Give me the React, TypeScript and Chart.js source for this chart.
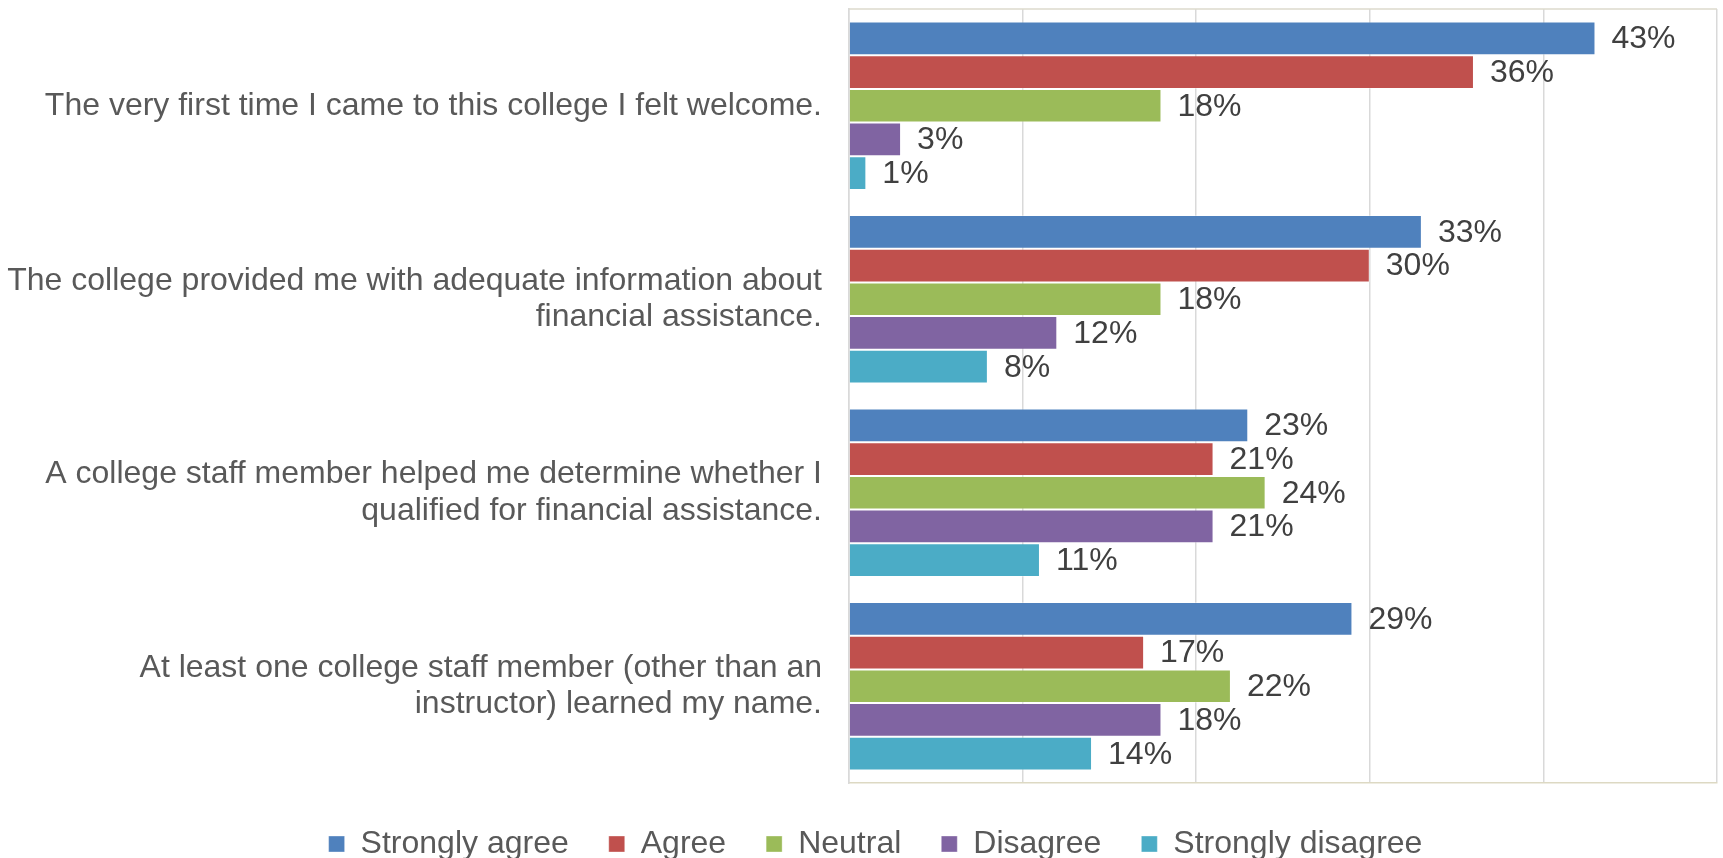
import React, { useEffect, useRef } from "react";
import { Chart, registerables } from "chart.js";

Chart.register(...registerables);

const categories: string[][] = [
  ["The very first time I came to this college I felt welcome."],
  ["The college provided me with adequate information about", "financial assistance."],
  ["A college staff member helped me determine whether I", "qualified for financial assistance."],
  ["At least one college staff member (other than an", "instructor) learned my name."],
];

const seriesNames = ["Strongly agree", "Agree", "Neutral", "Disagree", "Strongly disagree"];
const stronglyAgree = [43, 33, 23, 29];
const agree = [36, 30, 21, 17];
const neutral = [18, 18, 24, 22];
const disagree = [3, 12, 21, 18];
const stronglyDisagree = [1, 8, 11, 14];
const seriesColors = ["#4F81BD", "#C0504D", "#9BBB59", "#8064A2", "#4BACC6"];
const xTicks = [0, 10, 20, 30, 40, 50];

const FONT = "'Liberation Sans', Arial, sans-serif";

const dataLabelPlugin = {
  id: "dataLabels",
  afterDatasetsDraw(chart: any) {
    const ctx = chart.ctx;
    ctx.save();
    ctx.font = `32px ${FONT}`;
    ctx.fillStyle = "#404040";
    ctx.textAlign = "left";
    ctx.textBaseline = "middle";
    chart.data.datasets.forEach((ds: any, i: number) => {
      const meta = chart.getDatasetMeta(i);
      meta.data.forEach((bar: any, j: number) => {
        ctx.fillText(`${ds.data[j]}%`, bar.x + 16, bar.y + 1);
      });
    });
    ctx.restore();
  },
};

const borderPlugin = {
  id: "plotBorder",
  beforeDraw(chart: any) {
    const lg = chart.legend;
    if (lg && !lg.__shifted) {
      const orig = lg.draw.bind(lg);
      lg.draw = (area: any) => {
        chart.ctx.save();
        chart.ctx.translate(17, 0);
        orig(area);
        chart.ctx.restore();
      };
      lg.__shifted = true;
    }
  },
  afterDraw(chart: any) {
    const { ctx, chartArea } = chart;
    ctx.save();
    ctx.lineWidth = 1.5;
    ctx.strokeStyle = "#DCDACD";
    ctx.beginPath();
    ctx.moveTo(chartArea.left, chartArea.top);
    ctx.lineTo(chartArea.right, chartArea.top);
    ctx.stroke();
    ctx.restore();
  },
};

export default function App() {
  const ref = useRef<HTMLCanvasElement | null>(null);
  useEffect(() => {
    document.body.style.margin = "0";
    if (!ref.current) return;
    const values = [stronglyAgree, agree, neutral, disagree, stronglyDisagree];
    const chart = new Chart(ref.current, {
      type: "bar",
      data: {
        labels: categories,
        datasets: seriesNames.map((name, i) => ({
          label: name,
          data: values[i],
          backgroundColor: seriesColors[i],
          borderColor: "rgba(255,255,255,0.35)",
          borderWidth: 1,
          barPercentage: 1,
          categoryPercentage: 0.872,
        })),
      },
      options: {
        indexAxis: "y",
        animation: false,
        responsive: false,
        maintainAspectRatio: false,
        layout: { padding: { top: 9, right: 6, bottom: -12, left: 0 } },
        plugins: {
          tooltip: { enabled: false },
          legend: {
            position: "bottom",
            labels: {
              font: { family: FONT, size: 32 },
              color: "#595959",
              boxWidth: 16,
              boxHeight: 16,
              padding: 40,
            },
          },
        },
        scales: {
          x: {
            min: 0,
            max: 50,
            afterBuildTicks: (scale: any) => {
              scale.ticks = xTicks.map((v) => ({ value: v }));
            },
            ticks: { display: false },
            grid: { color: "#D9D9D9", lineWidth: 1.5, drawTicks: false },
            border: { display: true, color: "#DDD9C3", width: 1.5 },
            afterFit: (scale: any) => {
              scale.height = 5;
              scale.paddingLeft = 0;
              scale.paddingRight = 0;
            },
          },
          y: {
            grid: { display: false, drawTicks: false },
            border: { display: true, color: "#D9D9D9", width: 1.5 },
            ticks: {
              autoSkip: false,
              padding: 27,
              color: "#595959",
              font: { family: FONT, size: 32, lineHeight: 1.15 },
            },
            afterFit: (scale: any) => {
              scale.width = 849;
              scale.paddingTop = 0;
              scale.paddingBottom = 0;
            },
          },
        },
      },
      plugins: [dataLabelPlugin, borderPlugin],
    });
    return () => chart.destroy();
  }, []);
  return (
    <div style={{ position: "fixed", left: 0, top: 0, width: 1723, height: 858, background: "#fff" }}>
      <canvas ref={ref} width={1723} height={858} style={{ width: 1723, height: 858 }} />
    </div>
  );
}
